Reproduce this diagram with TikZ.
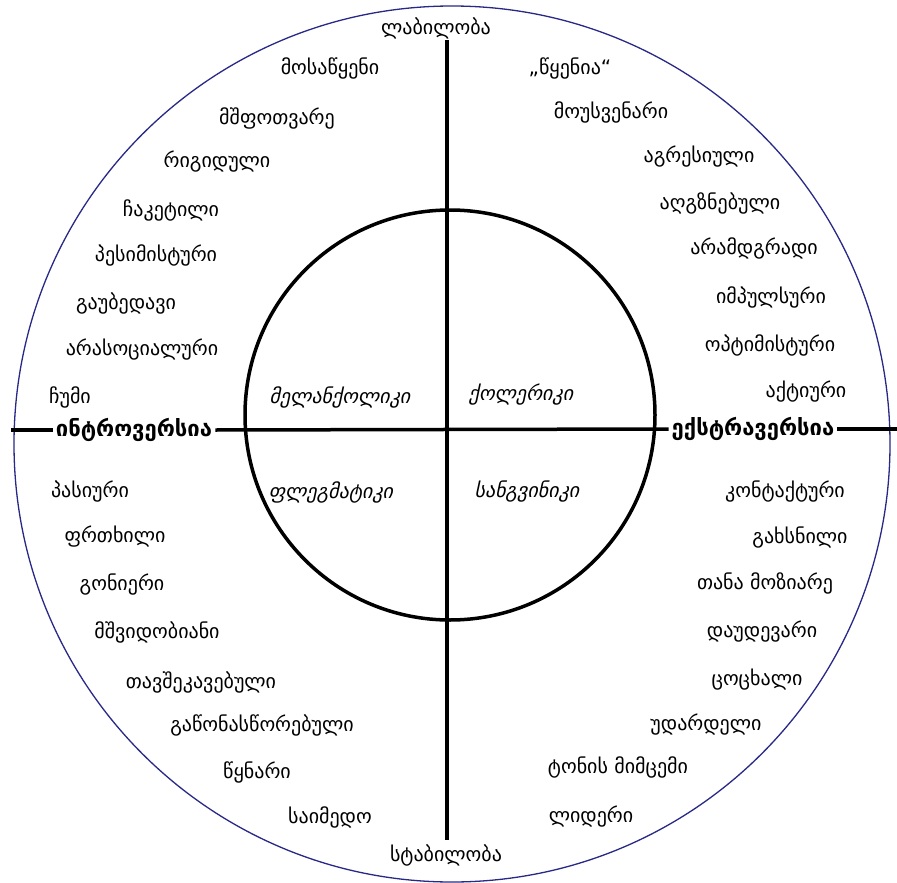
\documentclass[tikz,border=0pt]{standalone}
\usepackage{fontspec}
\setmainfont{DejaVu Sans}
\definecolor{rim}{RGB}{40,40,135}
\begin{document}
\begin{tikzpicture}[x=1pt,y=-1pt,
  trait/.style={font=\fontsize{20}{22}\selectfont, inner sep=1pt},
  temper/.style={font=\fontsize{20}{22}\selectfont\itshape, inner sep=1pt},
  axislbl/.style={font=\fontsize{22}{24}\selectfont\bfseries, inner sep=3pt}]
\useasboundingbox (0,0) rectangle (897,883);
\draw[rim, line width=1.3pt] (452,444) circle (438pt);
\draw[line width=3.5pt] (450,415) circle (205pt);

% axes
\node[trait] (labil) at (436,28) {ლაბილობა};
\node[trait] (stabil) at (446,855) {სტაბილობა};
\node[axislbl] (intro) at (134,430) {ინტროვერსია};
\node[axislbl] (extra) at (753,429) {ექსტრავერსია};
\coordinate (west) at (11,430);
\coordinate (east) at (897,429);
\draw[line width=3.5pt] (labil.south -| 447,0) -- (447,840);
\draw[line width=3.5pt] (west) -- (intro.west);
\draw[line width=3.5pt] (intro.east) -- (extra.west);
\draw[line width=3.5pt] (extra.east) -- (east);

% temperaments
\node[temper] (mel) at (340,397) {მელანქოლიკი};
\node[temper] (chol) at (521,395) {ქოლერიკი};
\node[temper] (phleg) at (331,492) {ფლეგმატიკი};
\node[temper] (sang) at (527,492) {სანგვინიკი};

% upper left
\node[trait] (t1) at (330,68) {მოსაწყენი};
\node[trait] (t2) at (277,118) {მშფოთვარე};
\node[trait] (t3) at (217,162) {რიგიდული};
\node[trait] (t4) at (171,210) {ჩაკეტილი};
\node[trait] (t5) at (156,255) {პესიმისტური};
\node[trait] (t6) at (126,303) {გაუბედავი};
\node[trait] (t7) at (142,350) {არასოციალური};
\node[trait] (t8) at (70,397) {ჩუმი};

% upper right
\node[trait] (r1) at (570,68) {„წყენია“};
\node[trait] (r2) at (611,112) {მოუსვენარი};
\node[trait] (r3) at (699,157) {აგრესიული};
\node[trait] (r4) at (720,203) {აღგზნებული};
\node[trait] (r5) at (754,248) {არამდგრადი};
\node[trait] (r6) at (771,297) {იმპულსური};
\node[trait] (r7) at (770,345) {ოპტიმისტური};
\node[trait] (r8) at (806,392) {აქტიური};

% lower left
\node[trait] (b1) at (90,492) {პასიური};
\node[trait] (b2) at (115,537) {ფრთხილი};
\node[trait] (b3) at (122,585) {გონიერი};
\node[trait] (b4) at (157,632) {მშვიდობიანი};
\node[trait] (b5) at (201,682) {თავშეკავებული};
\node[trait] (b6) at (262,725) {გაწონასწორებული};
\node[trait] (b7) at (257,772) {წყნარი};
\node[trait] (b8) at (330,817) {საიმედო};

% lower right
\node[trait] (s1) at (785,492) {კონტაქტური};
\node[trait] (s2) at (800,538) {გახსნილი};
\node[trait] (s3) at (765,583) {თანა მოზიარე};
\node[trait] (s4) at (762,632) {დაუდევარი};
\node[trait] (s5) at (757,680) {ცოცხალი};
\node[trait] (s6) at (706,725) {უდარდელი};
\node[trait] (s7) at (618,767) {ტონის მიმცემი};
\node[trait] (s8) at (591,817) {ლიდერი};
\end{tikzpicture}
\end{document}
